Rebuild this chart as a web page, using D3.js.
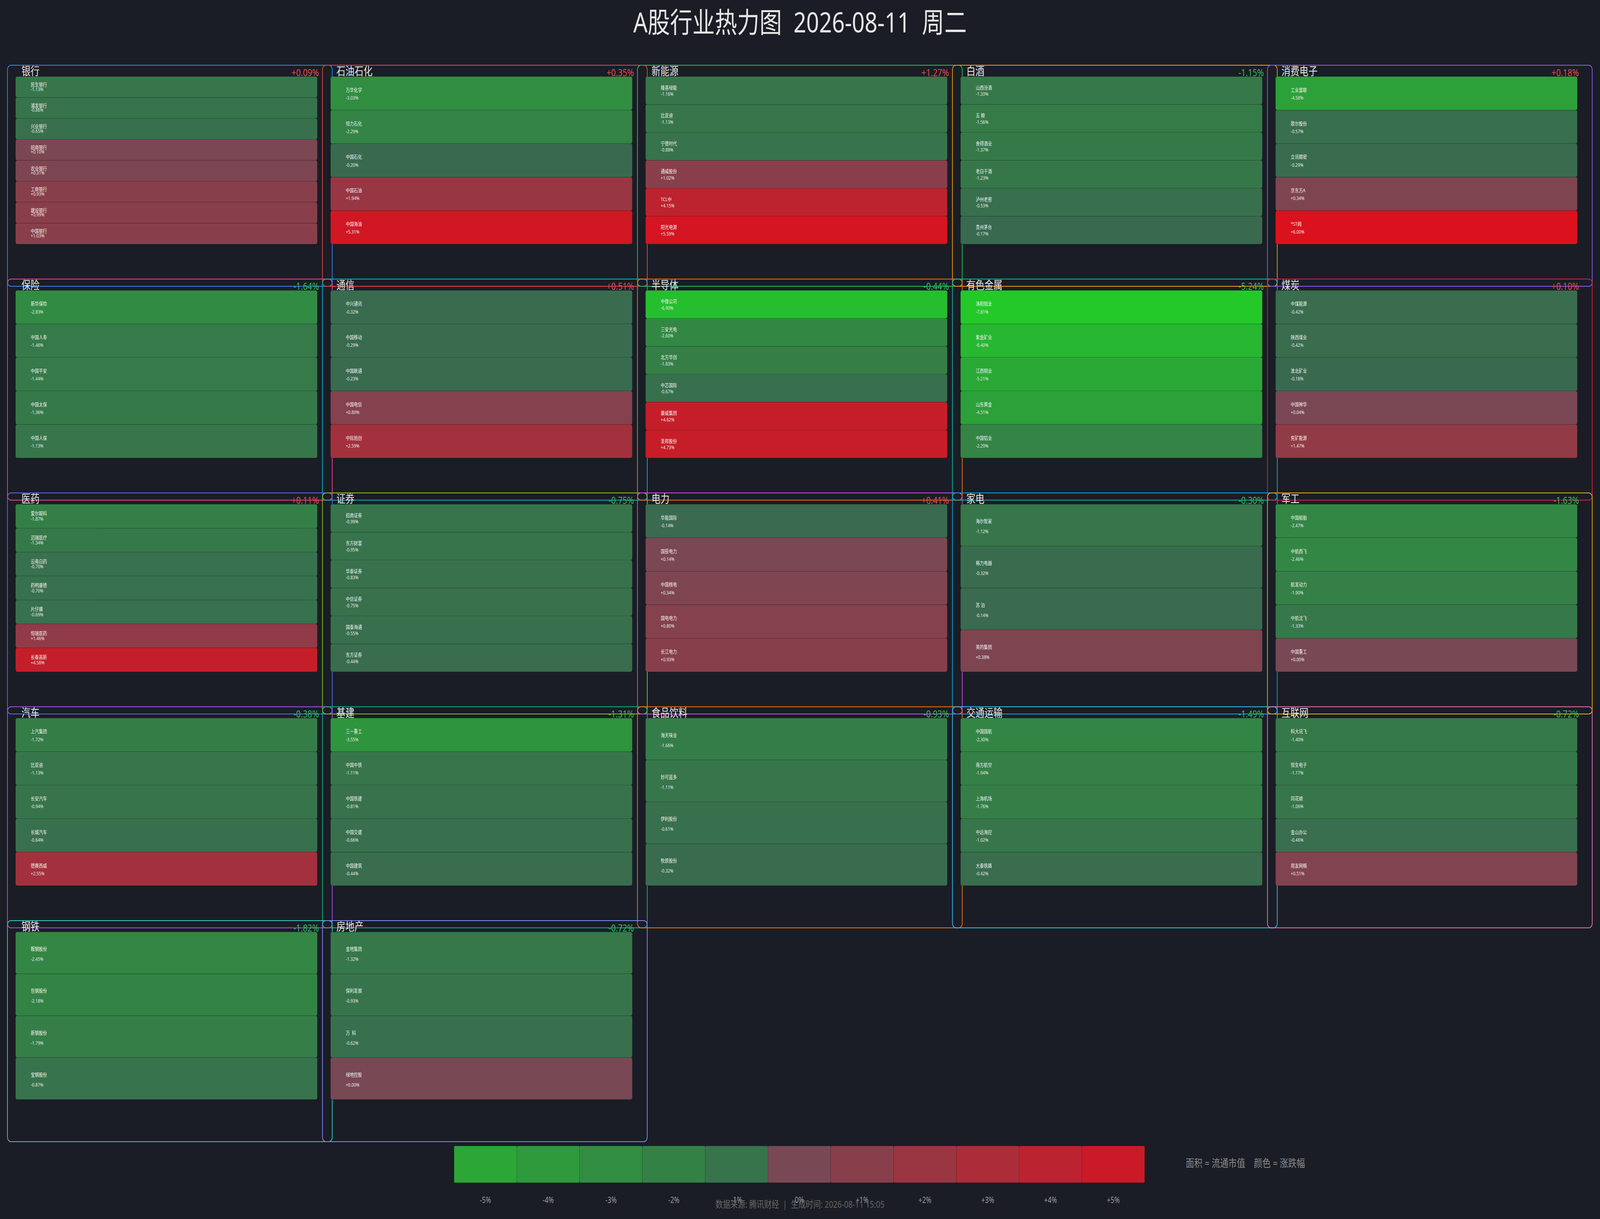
<!DOCTYPE html>
<html><head><meta charset="utf-8">
<script src="https://cdn.jsdelivr.net/npm/d3@7"></script>
<style>html,body{margin:0;padding:0;background:#1a1d25;overflow:hidden} svg{display:block} text{white-space:pre}</style>
</head><body>
<script>
// ---------------- DATA ----------------
const chartTitle = "A股行业热力图  2026-08-11  周二";
const footerText = "数据来源: 腾讯财经  |  生成时间: 2026-08-11 15:05";
const legendNote = "面积 = 流通市值    颜色 = 涨跌幅";

const sectorNames = ["银行","石油石化","新能源","白酒","消费电子",
  "保险","通信","半导体","有色金属","煤炭",
  "医药","证券","电力","家电","军工",
  "汽车","基建","食品饮料","交通运输","互联网",
  "钢铁","房地产"];
const sectorPct = [0.09,0.35,1.27,-1.15,0.18,
  -1.64,0.51,-0.44,-5.24,0.10,
  0.11,-0.75,0.41,-0.30,-1.63,
  -0.38,-1.31,-0.93,-1.49,-0.72,
  -1.82,-0.72];

const stockNames = [
  ["民生银行","浦发银行","兴业银行","招商银行","农业银行","工商银行","建设银行","中国银行"],
  ["万华化学","恒力石化","中国石化","中国石油","中国海油"],
  ["隆基绿能","比亚迪","宁德时代","通威股份","TCL中环","阳光电源"],
  ["山西汾酒","五 粮 液","舍得酒业","老白干酒","泸州老窖","贵州茅台"],
  ["工业富联","歌尔股份","立讯精密","京东方A","*ST闻泰"],
  ["新华保险","中国人寿","中国平安","中国太保","中国人保"],
  ["中兴通讯","中国移动","中国联通","中国电信","中际旭创"],
  ["中微公司","三安光电","北方华创","中芯国际","豪威集团","圣邦股份"],
  ["洛阳钼业","紫金矿业","江西铜业","山东黄金","中国铝业"],
  ["中煤能源","陕西煤业","淮北矿业","中国神华","兖矿能源"],
  ["爱尔眼科","迈瑞医疗","云南白药","药明康德","片仔癀","恒瑞医药","长春高新"],
  ["招商证券","东方财富","华泰证券","中信证券","国泰海通","东方证券"],
  ["华能国际","国投电力","中国核电","国电电力","长江电力"],
  ["海尔智家","格力电器","苏 泊 尔","美的集团"],
  ["中国船舶","中航西飞","航发动力","中航沈飞","中国重工"],
  ["上汽集团","比亚迪","长安汽车","长城汽车","德赛西威"],
  ["三一重工","中国中铁","中国铁建","中国交建","中国建筑"],
  ["海天味业","妙可蓝多","伊利股份","牧原股份"],
  ["中国国航","南方航空","上海机场","中远海控","大秦铁路"],
  ["科大讯飞","恒生电子","同花顺","金山办公","用友网络"],
  ["鞍钢股份","包钢股份","新钢股份","宝钢股份"],
  ["金地集团","保利发展","万  科Ａ","绿地控股"]
];
const stockPct = [
  [-1.13,-0.86,-0.65,0.10,0.31,0.93,0.99,1.03],
  [-3.03,-2.29,-0.20,1.94,5.31],
  [-1.16,-1.13,-0.88,1.02,4.15,5.59],
  [-1.33,-1.56,-1.37,-1.23,-0.53,-0.17],
  [-4.58,-0.57,-0.29,0.34,6.00],
  [-2.83,-1.46,-1.44,-1.36,-1.13],
  [-0.32,-0.29,-0.23,0.80,2.59],
  [-6.90,-2.60,-1.83,-0.67,4.62,4.73],
  [-7.81,-6.40,-5.21,-4.51,-2.29],
  [-0.42,-0.42,-0.18,0.04,1.47],
  [-1.87,-1.34,-0.70,-0.70,-0.69,1.46,4.58],
  [-0.99,-0.95,-0.83,-0.75,-0.55,-0.44],
  [-0.14,0.14,0.34,0.80,0.93],
  [-1.12,-0.32,-0.14,0.38],
  [-2.47,-2.46,-1.90,-1.33,0.00],
  [-1.72,-1.13,-0.94,-0.64,2.55],
  [-3.55,-1.11,-0.81,-0.66,-0.44],
  [-1.66,-1.11,-0.61,-0.32],
  [-2.30,-1.94,-1.76,-1.02,-0.42],
  [-1.40,-1.17,-1.06,-0.46,0.51],
  [-2.45,-2.18,-1.79,-0.87],
  [-1.32,-0.93,-0.62,0.00]
];

const legendValues = [-5,-4,-3,-2,-1,0,1,2,3,4,5];
const legendLabels = ["-5%","-4%","-3%","-2%","-1%","0%","+1%","+2%","+3%","+4%","+5%"];

// ---------------- STYLE / LAYOUT ----------------
const boxColors = ['#3b82f6','#ef4444','#22c55e','#f59e0b','#8b5cf6',
  '#ec4899','#06b6d4','#f97316','#14b8a6','#e11d48',
  '#6366f1','#84cc16','#d946ef','#0ea5e9','#eab308',
  '#a855f7','#10b981','#f97316','#38bdf8','#f472b6',
  '#2dd4bf','#818cf8'];

const W = 5148, H = 3121;
const FONT = '"Noto Sans","Noto Sans CJK SC",sans-serif';
const COLS = 5;
const BOX_W = 1045, BOX_H = 566;
const CELL_DX = 26, CELL_W = 971, CELL_DY = 29, CELL_H = 429;

const colX = d3.scaleLinear().domain([0, 1]).range([24, 24 + 1013.5]);
const rowY = d3.scaleLinear().domain([0, 1]).range([167, 167 + 547.5]);

const negColor = d3.scaleLinear().domain([-10, 0]).range(['#1ce41e', '#3a6850']).clamp(true);
const posColor = d3.scaleLinear().domain([0, 6]).range(['#784854', '#dc111e']).clamp(true);
const heat = v => v < 0 ? negColor(v) : posColor(v);
const fmt = v => (v >= 0 ? '+' : '') + v.toFixed(2) + '%';

// fit the 5148x3121 drawing into whatever viewport the browser really has
const vw = window.innerWidth || W, vh = window.innerHeight || H;
const svg = d3.select('body').append('svg')
  .attr('width', vw).attr('height', vh)
  .attr('viewBox', `0 0 ${W} ${H}`)
  .attr('preserveAspectRatio', 'none')
  .style('font-family', FONT);

svg.append('rect').attr('width', W).attr('height', H).attr('fill', '#1a1d25');

// Title
svg.append('text')
  .attr('x', W / 2).attr('y', 83)
  .attr('text-anchor', 'middle')
  .attr('font-size', 72)
  .attr('fill', '#e6e6e6')
  .text(chartTitle);

// Sectors
const sectors = sectorNames.map((name, i) => ({
  name, pct: sectorPct[i], i,
  col: i % COLS, row: Math.floor(i / COLS),
  stocks: stockNames[i].map((n, j) => ({ name: n, pct: stockPct[i][j], j }))
}));

const g = svg.selectAll('g.sector').data(sectors).enter().append('g')
  .attr('class', 'sector')
  .attr('transform', d => `translate(${colX(d.col)},${rowY(d.row)})`);

g.append('rect')
  .attr('width', BOX_W).attr('height', BOX_H)
  .attr('rx', 11).attr('ry', 11)
  .attr('fill', 'none')
  .attr('stroke', d => boxColors[d.i])
  .attr('stroke-width', 2.2);

g.each(function (d) {
  const sel = d3.select(this);
  const y = d3.scaleBand().domain(d.stocks.map(s => s.j))
    .range([CELL_DY, CELL_DY + CELL_H]).padding(0);
  const h = y.bandwidth();
  const cell = sel.selectAll('g.cell').data(d.stocks).enter().append('g')
    .attr('class', 'cell')
    .attr('transform', s => `translate(${CELL_DX},${y(s.j)})`);
  cell.append('rect')
    .attr('width', CELL_W).attr('height', h)
    .attr('rx', 5).attr('ry', 5)
    .attr('fill', s => heat(s.pct))
    .attr('stroke', 'rgba(0,0,0,0.22)')
    .attr('stroke-width', 1);
  cell.append('text')
    .attr('x', 49).attr('y', 0.43 * h + 2)
    .attr('font-size', 13)
    .attr('fill', '#f2f2f2')
    .text(s => s.name.slice(0, 4));
  cell.append('text')
    .attr('x', 49).attr('y', 0.70 * h - 1)
    .attr('font-size', 13)
    .attr('fill', '#e8e8e8')
    .text(s => fmt(s.pct));
});

g.append('text')
  .attr('x', 45).attr('y', 26)
  .attr('font-size', 29)
  .attr('fill', '#e6e6e6')
  .text(d => d.name);

g.append('text')
  .attr('x', 1002).attr('y', 28)
  .attr('text-anchor', 'end')
  .attr('font-size', 26)
  .attr('fill', d => d.pct >= 0 ? '#e5484d' : '#2ebd5b')
  .text(d => fmt(d.pct));

// Legend
const lx = d3.scaleBand().domain(legendValues).range([1461, 3683]).padding(0);
const leg = svg.append('g');
leg.selectAll('rect').data(legendValues).enter().append('rect')
  .attr('x', v => lx(v)).attr('y', 2934)
  .attr('width', lx.bandwidth()).attr('height', 94)
  .attr('rx', 3).attr('ry', 3)
  .attr('fill', v => heat(v))
  .attr('stroke', 'rgba(0,0,0,0.15)')
  .attr('stroke-width', 1);
leg.selectAll('text.tick').data(legendValues).enter().append('text')
  .attr('class', 'tick')
  .attr('x', v => lx(v) + lx.bandwidth() / 2)
  .attr('y', 3080)
  .attr('text-anchor', 'middle')
  .attr('font-size', 21)
  .attr('fill', '#9a9a9a')
  .text((v, i) => legendLabels[i]);

svg.append('text')
  .attr('x', 3815).attr('y', 2981)
  .attr('dominant-baseline', 'middle')
  .attr('font-size', 27)
  .attr('fill', '#8a8a8a')
  .text(legendNote);

svg.append('text')
  .attr('x', W / 2).attr('y', 3092)
  .attr('text-anchor', 'middle')
  .attr('font-size', 24)
  .attr('fill', '#666')
  .text(footerText);
</script>
</body></html>
